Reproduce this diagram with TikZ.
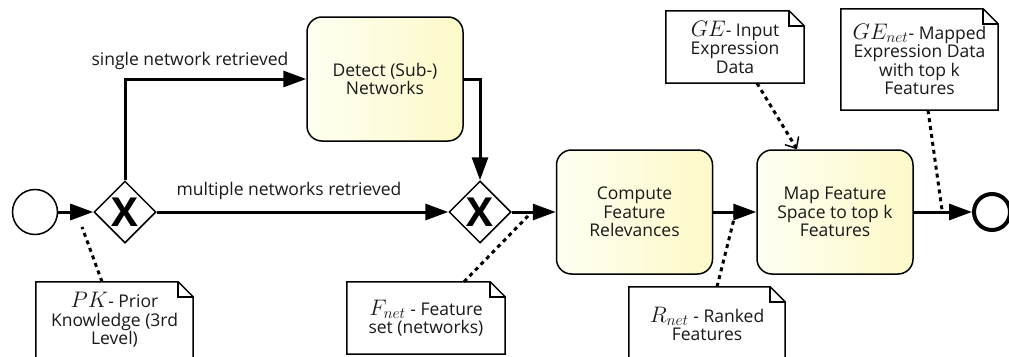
\documentclass[tikz,border=0pt]{standalone}
\usepackage{graphicx}
\usepackage{fontspec}
\setmainfont{Open Sans}
\usetikzlibrary{arrows.meta,shapes.geometric,calc}
\definecolor{taskA}{RGB}{255,255,242}
\definecolor{taskB}{RGB}{252,249,200}
\definecolor{txt}{RGB}{25,25,25}
\newcommand{\mth}[1]{\scalebox{1.3}{$#1$}}
\newcommand{\foldnote}[1]{%
  \draw[noteline] (#1.north west) -- ([xshift=-15pt]#1.north east) -- ([yshift=-15pt]#1.north east) -- (#1.south east) -- (#1.south west) -- cycle;
  \draw[noteline] ([xshift=-15pt]#1.north east) |- ([yshift=-15pt]#1.north east);}
\begin{document}
\begin{tikzpicture}[x=1pt,y=-1pt,
  font=\fontsize{17.5}{18.5}\selectfont, text=txt,
  task/.style={draw, line width=1.5pt, rounded corners=15pt, minimum width=156pt, minimum height=124pt, align=center, inner sep=0pt, left color=taskA, right color=taskB},
  gate/.style={diamond, draw, line width=1.5pt, minimum width=62pt, minimum height=62pt, inner sep=0pt, fill=white, font=\fontsize{40}{40}\selectfont\bfseries, text=black},
  flow/.style={line width=3pt, -{Triangle[length=23pt,width=16pt]}},
  assoc/.style={line width=3pt, dash pattern=on 4pt off 4pt},
  noteline/.style={line width=1.5pt},
  notebox/.style={fill=white, align=center, inner sep=0pt},
  lbl/.style={inner sep=0pt}
]
\useasboundingbox (0,0) rectangle (1009,356);
\clip (0,0) rectangle (1009,356);

% events and gateways
\node[circle, draw, line width=1.5pt, minimum size=45pt, inner sep=0pt] (start) at (35,212) {};
\node[gate] (gw1) at (125,212) {X};
\node[gate] (gw2) at (480,212) {X};
\node[circle, draw, line width=4pt, minimum size=36pt, inner sep=0pt] (end) at (992,212) {};

% tasks
\node[task] (detect) at (385,79) {Detect (Sub-)\\Networks};
\node[task] (compute) at (634.5,212) {Compute\\Feature\\Relevances};
\node[task] (map) at (835,212) {Map Feature\\Space to top k\\Features};

% flows
\draw[flow] (start) -- (gw1);
\draw[flow] (gw1.north) |- (detect.west);
\draw[flow] (detect.east) -| (gw2.north);
\draw[flow] (gw1.east) -- (gw2.west);
\draw[flow] (gw2.east) -- (compute.west);
\draw[flow] (compute.east) -- (map.west);
\draw[flow] (map.east) -- (end.west);

\node[lbl] (l1) at (190,61) {single network retrieved};
\node[lbl] (l2) at (289,191) {multiple networks retrieved};

% notes
\node[notebox, minimum width=157pt, minimum height=76pt] (pk) at (114.5,320) {\mth{PK}- Prior\\Knowledge (3rd\\Level)};
\node[notebox, minimum width=158pt, minimum height=72pt] (fnet) at (426,318) {\mth{F_{net}} - Feature\\set (networks)};
\node[notebox, minimum width=156pt, minimum height=74pt] (rnet) at (707,324) {\mth{R_{net}} - Ranked\\Features};
\node[notebox, minimum width=138pt, minimum height=72pt] (ge) at (735,47) {\mth{GE}- Input\\Expression\\Data};
\node[notebox, minimum width=157pt, minimum height=101pt] (genet) at (919.5,59.5) {\mth{GE_{net}}- Mapped\\Expression Data\\with top k\\Features};
\foldnote{pk}
\foldnote{fnet}
\foldnote{rnet}
\foldnote{ge}
\foldnote{genet}

% associations
\coordinate (pkend) at (82,227);
\coordinate (fnetend) at (528,216);
\coordinate (rnetend) at (735,215);
\coordinate (genetend) at (942,210);
\draw[assoc] ([xshift=-12.5pt]pk.north) -- (pkend);
\draw[assoc] ([xshift=38pt]fnet.north) -- (fnetend);
\draw[assoc] ([xshift=10pt]rnet.north) -- (rnetend);
\draw[assoc] ([xshift=8.5pt]genet.south) -- (genetend);
\draw[assoc, -{Straight Barb[length=9pt,width=16pt,line width=1.5pt]}] ([xshift=22pt]ge.south) -- ([xshift=-38pt]map.north);
\end{tikzpicture}
\end{document}
